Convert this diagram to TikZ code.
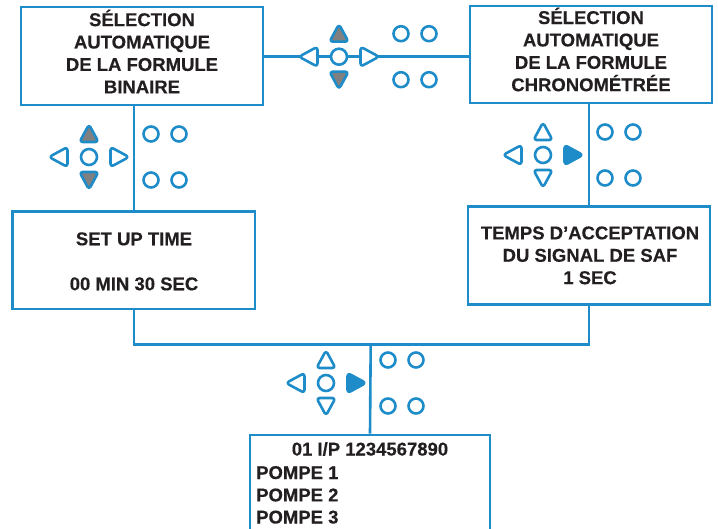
\documentclass[tikz,border=0pt]{standalone}
\usepackage{fontspec}
\setmainfont{Liberation Sans}
\newfontfamily\lblfont{Liberation Sans Bold}[FakeBold=0.35]
\definecolor{kblue}{RGB}{30,140,200}
\definecolor{kgray}{RGB}{128,128,128}
\definecolor{ktext}{RGB}{35,31,32}
\tikzset{
  box/.style={draw=kblue, line width=2.6pt, fill=white, inner sep=0pt},
  conn/.style={draw=kblue, line width=2.6pt},
  lbl/.style={text=ktext, font=\fontsize{18.5}{22.4}\selectfont\lblfont, align=center, inner sep=0pt},
  key/.style={draw=kblue, line width=2.6pt, fill=white, rounded corners=3.2pt, line join=round},
  pics/keypad/.style 2 args={code={
    \draw[key] (0,0) circle (8);
    \draw[key, fill=#1] (0,-32.5) -- (9.5,-15) -- (-9.5,-15) -- cycle;
    \draw[key, fill=#1] (0,32.5) -- (9.5,15) -- (-9.5,15) -- cycle;
    \draw[key] (-40,0) -- (-21.5,-10) -- (-21.5,10) -- cycle;
    \draw[key, fill=#2] (40,0) -- (21.5,-10) -- (21.5,10) -- cycle;
    \foreach \dx in {62,90} \foreach \dy in {-23,23} \draw[key] (\dx,\dy) circle (7.5);
  }}
}
\begin{document}
\begin{tikzpicture}[x=1pt,y=-1pt]
\useasboundingbox (0,0) rectangle (718,529);
\clip (0,0) rectangle (718,529);
% boxes
\node[box, minimum width=242pt, minimum height=98pt] (b1) at (142,56) {};
\node[box, minimum width=242pt, minimum height=97pt] (b2) at (591,54.5) {};
\node[box, minimum width=242.3pt, minimum height=97.3pt] (b3) at (133.85,260.35) {};
\node[box, minimum width=242pt, minimum height=97.6pt] (b4) at (589,255.5) {};
\node[box, minimum width=240pt, minimum height=110pt] (b5) at (370,490) {};
% coordinates
\coordinate (kt) at (339,56.7);
\coordinate (j) at (370.7,344.5);
% connectors
\draw[conn] (b1.east |- kt) -- (b2.west |- kt);
\draw[conn] (b1.south -| b3.north) -- (b3.north);
\draw[conn] (b2.south -| b4.north) -- (b4.north);
\draw[conn] (b3.south) |- (j) -| (b4.south);
\draw[conn] (j) -- (b5.north);
% keypads
\pic at (kt) {keypad={kgray}{white}};
\pic at (89,157) {keypad={kgray}{white}};
\pic at (543,155) {keypad={white}{kblue}};
\pic at (326,383) {keypad={white}{kblue}};
% texts
\node[lbl] (t1) at (142,51.5) {SÉLECTION\\AUTOMATIQUE\\DE LA FORMULE\\BINAIRE};
\node[lbl] (t2) at (591,49.5) {SÉLECTION\\AUTOMATIQUE\\DE LA FORMULE\\CHRONOMÉTRÉE};
\node[lbl] (t3) at (134,261.4) {SET UP TIME\\[22.6pt]00 MIN 30 SEC};
\node[lbl] (t4) at (590,255.35) {TEMPS D’ACCEPTATION\\DU SIGNAL DE SAF\\1 SEC};
\node[lbl, anchor=base] (t5) at (370,455.5) {01 I/P 1234567890};
\node[lbl, anchor=base west] (p1) at (256,479) {POMPE 1};
\node[lbl, anchor=base west] (p2) at (256,501.4) {POMPE 2};
\node[lbl, anchor=base west] (p3) at (256,523.5) {POMPE 3};
\end{tikzpicture}
\end{document}
